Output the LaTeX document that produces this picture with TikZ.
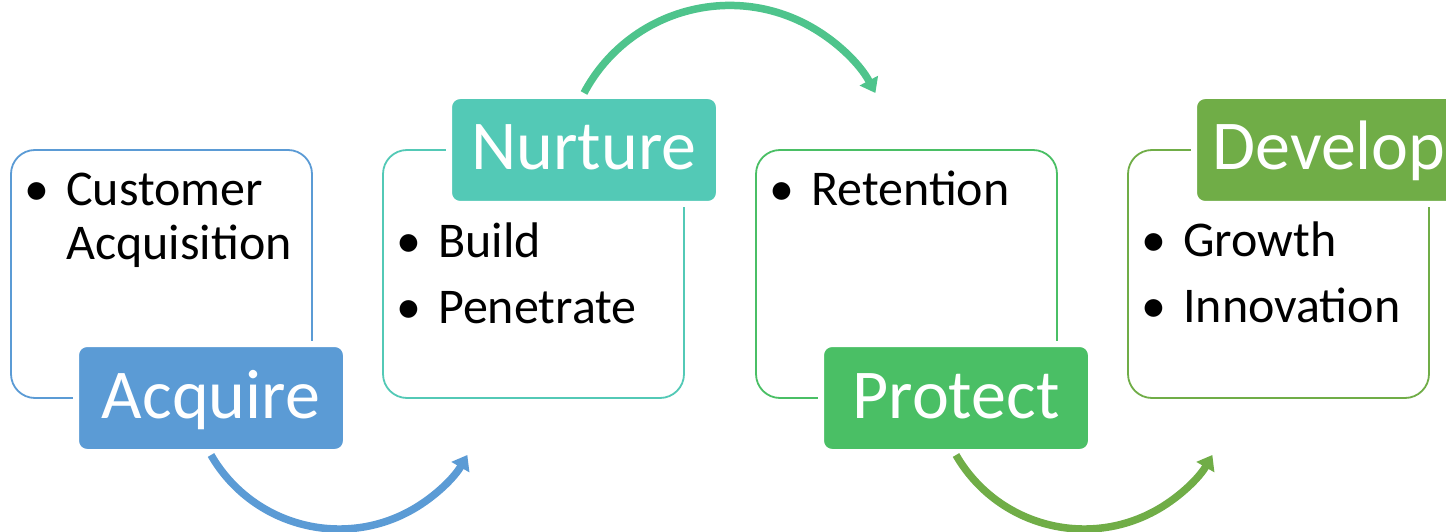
\documentclass[tikz,border=0pt]{standalone}
\usepackage{fontspec}
\setmainfont{Carlito}
\usetikzlibrary{arrows.meta}
\definecolor{acqblue}{HTML}{5B9BD5}
\definecolor{nurteal}{HTML}{53C9B6}
\definecolor{protgreen}{HTML}{4ABF65}
\definecolor{devgreen}{HTML}{70AD47}
\definecolor{midgreen}{HTML}{4EC48C}
\tikzset{
  frame/.style={draw=#1, line width=1.8pt, rounded corners=24pt,
    minimum width=301pt, minimum height=248pt, inner sep=0pt},
  tag/.style={fill=#1, draw=white, line width=6pt, rounded corners=11pt,
    minimum width=270pt, minimum height=108pt, inner sep=0pt, text=white,
    font=\fontsize{70}{84}\selectfont, text height=40pt, text depth=0pt},
  item/.style={anchor=base west, inner sep=0pt, font=\fontsize{50}{60}\selectfont},
  dot/.style={anchor=base, inner sep=0pt, font=\fontsize{50}{60}\selectfont},
  flow/.style={draw=#1, line width=7.5pt, -{Triangle[width=20pt,length=14pt]}},
}
\begin{document}
\begin{tikzpicture}[x=1pt, y=1pt]
  \clip (0,0) rectangle (1446,531);
  \fill[white] (0,0) rectangle (1446,531);

  % outlined content boxes
  \node[frame=acqblue]   (f1) at (161.5,257) {};
  \node[frame=nurteal]   (f2) at (533.5,257) {};
  \node[frame=protgreen] (f3) at (906.5,257) {};
  \node[frame=devgreen]  (f4) at (1278.5,257) {};

  % bullet lists
  \node[dot]  (b1)  at (37,325)  {•};
  \node[item] (t1a) at (66,325)  {Customer};
  \node[item] (t1b) at (66,271)  {Acquisition};

  \node[dot]  (b2a) at (409,273) {•};
  \node[item] (t2a) at (438,273) {Build};
  \node[dot]  (b2b) at (409,208) {•};
  \node[item] (t2b) at (438,208) {Penetrate};

  \node[dot]  (b3)  at (782,325) {•};
  \node[item] (t3)  at (811,325) {Retention};

  \node[dot]  (b4a) at (1154,274) {•};
  \node[item] (t4a) at (1183,274) {Growth};
  \node[dot]  (b4b) at (1154,209) {•};
  \node[item] (t4b) at (1183,209) {Innovation};

  % stage labels
  \node[tag=acqblue]   (acq)  at (211,133)  {Acquire};
  \node[tag=nurteal]   (nur)  at (584,381)  {Nurture};
  \node[tag=protgreen] (prot) at (956,133)  {Protect};
  \node[tag=devgreen]  (dev)  at (1329,381) {Develop};

  % curved flow arrows
  \draw[flow=acqblue]   (acq.south)  arc[start angle=210, end angle=330, radius=148];
  \draw[flow=midgreen]  (nur.north)  arc[start angle=152, end angle=28,  radius=165];
  \draw[flow=devgreen]  (prot.south) arc[start angle=210, end angle=330, radius=148];
\end{tikzpicture}
\end{document}
